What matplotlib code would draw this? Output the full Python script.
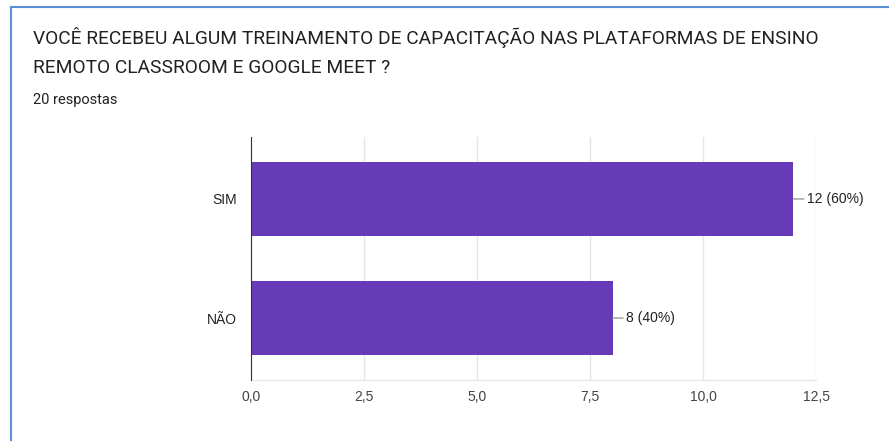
import matplotlib.pyplot as plt
from matplotlib.lines import Line2D

categories = ["SIM", "NÃO"]
counts = [12, 8]
total = 20
xticks = [0, 2.5, 5, 7.5, 10, 12.5]

plt.rcParams['font.family'] = ['Roboto', 'DejaVu Sans']
LABEL_FONT = ['Liberation Sans', 'DejaVu Sans']

W, H = 889, 441
fig = plt.figure(figsize=(W / 100, H / 100), dpi=100)

# card border (left and top)
fig.add_artist(Line2D([10.5 / W, 10.5 / W], [0, 1 - 6.5 / H], color='#5b8fd6', lw=1.5))
fig.add_artist(Line2D([10.5 / W, 1], [1 - 6.5 / H, 1 - 6.5 / H], color='#5b8fd6', lw=1.5))

fig.text(33 / W, 1 - 38 / H, "VOCÊ RECEBEU ALGUM TREINAMENTO DE CAPACITAÇÃO NAS PLATAFORMAS DE ENSINO",
         fontsize=13.8, color='#202124', va='center')
fig.text(33 / W, 1 - 68 / H, "REMOTO CLASSROOM E GOOGLE MEET ?",
         fontsize=13.8, color='#202124', va='center')
fig.text(33 / W, 1 - 100 / H, "20 respostas", fontsize=10.5, color='#202124', va='center')

left, right, top, bottom = 251, 816, 137, 380
ax = fig.add_axes([left / W, 1 - bottom / H, (right - left) / W, (bottom - top) / H])

ypos = [1, 0]
ax.barh(ypos, counts, height=0.62, color='#673ab7', zorder=3)
ax.set_xlim(0, 12.5)
ax.set_ylim(-0.52, 1.52)
ax.set_xticks(xticks)
ax.set_xticklabels([f"{t:.1f}".replace('.', ',') for t in xticks], fontsize=10,
                   color='#444444', family=LABEL_FONT)
ax.set_yticks(ypos)
ax.set_yticklabels(categories, fontsize=10, color='#222222', family=LABEL_FONT)
ax.tick_params(length=0)
ax.tick_params(axis='x', pad=7)
ax.tick_params(axis='y', pad=10)
ax.grid(axis='x', color='#e6e6e6', lw=1, zorder=0)
for s in ['top', 'right']:
    ax.spines[s].set_visible(False)
ax.spines['bottom'].set_color('#e6e6e6')
ax.spines['left'].set_color('#333333')
ax.spines['left'].set_zorder(4)

for y, c in zip(ypos, counts):
    ax.annotate(f"{c} ({c / total * 100:.0f}%)", xy=(c, y), xytext=(9.5, 0),
                textcoords='offset points', va='center', ha='left',
                fontsize=10, color='#222222', family=LABEL_FONT,
                arrowprops=dict(arrowstyle='-', color='#999999', lw=1, shrinkA=0, shrinkB=0))

fig.savefig("out.png", dpi=100)
